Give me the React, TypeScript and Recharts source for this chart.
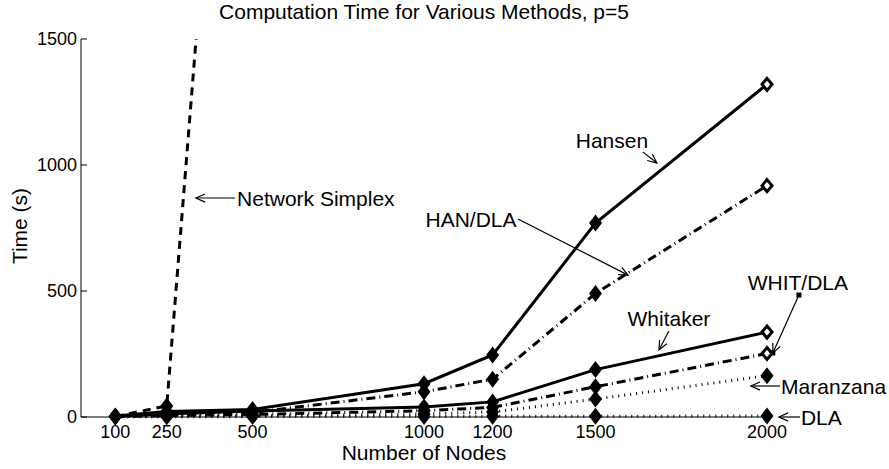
import { LineChart, Line, XAxis, YAxis, ReferenceLine, ReferenceDot, Label } from "recharts";

const NODES = [100, 250, 500, 1000, 1200, 1500, 2000];
const HANSEN = [4, 22, 30, 132, 246, 770, 1320];
const HAN_DLA = [2, 14, 18, 100, 150, 490, 918];
const WHITAKER = [3, 12, 24, 40, 60, 188, 337];
const WHIT_DLA = [1, 6, 10, 25, 38, 120, 252];
const MARANZANA = [1, 3, 5, 12, 20, 71, 164];
const DLA = [0.5, 1, 1.5, 2, 2.5, 3, 4];
const NETWORK_SIMPLEX = [2, 44, 4300];
const Y_TICKS = [0, 500, 1000, 1500];

const rows = NODES.map((n, i) => ({
  n,
  hansen: HANSEN[i],
  hanDla: HAN_DLA[i],
  whitaker: WHITAKER[i],
  whitDla: WHIT_DLA[i],
  maranzana: MARANZANA[i],
  dla: DLA[i],
  ns: NETWORK_SIMPLEX[i],
}));

// text position + arrow (tail -> head), all in data units
const NOTES = [
  { text: "Network Simplex", at: [455, 869], anchor: "start", from: [449, 869], to: [335, 869] },
  { text: "Hansen", at: [1548, 1099], anchor: "middle", from: [1638, 1052], to: [1679, 1008] },
  { text: "HAN/DLA", at: [1137, 782], anchor: "middle", from: [1274, 786], to: [1595, 563] },
  { text: "Whitaker", at: [1714, 389], anchor: "middle", from: [1714, 341], to: [1685, 266] },
  { text: "WHIT/DLA", at: [2090, 532], anchor: "middle", from: [2093, 484], to: [2017, 254], boxes: true },
  { text: "Maranzana", at: [2041, 123], anchor: "start", from: [2038, 123], to: [1953, 123] },
  { text: "DLA", at: [2099, 0], anchor: "start", from: [2096, 0], to: [2035, 0] },
];

const FONT = "'Liberation Sans', Arial, Helvetica, sans-serif";

const diamond = (hollowLast: boolean) => (p: any) => {
  const { cx, cy, index } = p;
  if (cx == null || cy == null || isNaN(cy)) return <g key={`d-${index}`} />;
  if (hollowLast && index === NODES.length - 1) {
    return (
      <polygon
        key={`d-${index}`}
        points={`${cx},${cy - 6} ${cx + 5},${cy} ${cx},${cy + 6} ${cx - 5},${cy}`}
        fill="#fff"
        stroke="#000"
        strokeWidth={3}
      />
    );
  }
  return (
    <polygon
      key={`d-${index}`}
      points={`${cx},${cy - 8.5} ${cx + 6.5},${cy} ${cx},${cy + 8.5} ${cx - 6.5},${cy}`}
      fill="#000"
    />
  );
};

const arrow = (boxes?: boolean) => (p: any) => {
  const { x1, y1, x2, y2 } = p;
  const ang = Math.atan2(y2 - y1, x2 - x1);
  const len = 10;
  const spread = 0.42;
  const ax = x2 - len * Math.cos(ang - spread);
  const ay = y2 - len * Math.sin(ang - spread);
  const bx = x2 - len * Math.cos(ang + spread);
  const by = y2 - len * Math.sin(ang + spread);
  return (
    <g>
      <line x1={x1} y1={y1} x2={x2} y2={y2} stroke="#000" strokeWidth={1.2} />
      <polyline points={`${ax},${ay} ${x2},${y2} ${bx},${by}`} fill="none" stroke="#000" strokeWidth={1.2} />
      {boxes && <rect x={x1 - 2.5} y={y1 - 2.5} width={5} height={5} fill="#000" />}
      {boxes && <rect x={x2 - 2.5} y={y2 - 2.5} width={5} height={5} fill="#000" />}
    </g>
  );
};

const noteText = (text: string, anchor: string) => (p: any) => (
  <text
    x={p.cx}
    y={p.cy}
    textAnchor={anchor}
    dominantBaseline="central"
    fontSize={21}
    fontFamily={FONT}
    fill="#000"
  >
    {text}
  </text>
);

const XTick = (p: any) => (
  <text x={p.x} y={p.y} dy="0.71em" textAnchor="middle" fontSize={18} fontFamily={FONT} fill="#000">
    {p.payload.value}
  </text>
);

const YTick = (p: any) => (
  <g>
    <text x={p.x} y={p.y} dy="0.355em" textAnchor="end" fontSize={18} fontFamily={FONT} fill="#000">
      {p.payload.value}
    </text>
    <line x1={p.x + 4} y1={p.y} x2={p.x + 10} y2={p.y} stroke="#000" strokeWidth={1} />
  </g>
);

export default function App() {
  return (
    <div style={{ position: "absolute", left: 0, top: 0, width: 889, height: 469, background: "#fff" }}>
      <div
        style={{
          position: "absolute",
          left: 0,
          top: 0,
          width: 848,
          textAlign: "center",
          fontFamily: FONT,
          fontSize: 21,
          lineHeight: "24px",
          color: "#000",
        }}
      >
        Computation Time for Various Methods, p=5
      </div>
      <LineChart width={889} height={469} data={rows} margin={{ top: 39, right: 122, bottom: 0, left: 0 }}>
        <XAxis
          dataKey="n"
          type="number"
          domain={[0, 2000]}
          ticks={NODES}
          interval={0}
          height={52}
          tickLine={false}
          tickSize={0}
          tickMargin={8}
          axisLine={{ stroke: "#000", strokeWidth: 1 }}
          tick={<XTick />}
        >
          <Label
            content={() => (
              <text
                x={424}
                y={452}
                textAnchor="middle"
                dominantBaseline="central"
                fontSize={21}
                fontFamily={FONT}
                fill="#000"
              >
                Number of Nodes
              </text>
            )}
          />
        </XAxis>
        <YAxis
          domain={[0, 1500]}
          ticks={Y_TICKS}
          width={81}
          tickLine={false}
          tickSize={0}
          tickMargin={4}
          axisLine={{ stroke: "#000", strokeWidth: 1 }}
          tick={<YTick />}
        >
          <Label
            content={() => (
              <text
                x={19}
                y={226}
                transform="rotate(-90 19 226)"
                textAnchor="middle"
                dominantBaseline="central"
                fontSize={21}
                fontFamily={FONT}
                fill="#000"
              >
                Time (s)
              </text>
            )}
          />
        </YAxis>
        <YAxis yAxisId="ns" hide domain={[0, 1500]} allowDataOverflow />

        <Line dataKey="dla" stroke="#000" strokeWidth={3} strokeDasharray="1 5" dot={diamond(false)} isAnimationActive={false} />
        <Line dataKey="maranzana" stroke="#000" strokeWidth={3} strokeDasharray="1 5" dot={diamond(false)} isAnimationActive={false} />
        <Line dataKey="whitDla" stroke="#000" strokeWidth={3} strokeDasharray="9 4 1 4" dot={diamond(true)} isAnimationActive={false} />
        <Line dataKey="whitaker" stroke="#000" strokeWidth={3} dot={diamond(true)} isAnimationActive={false} />
        <Line dataKey="hanDla" stroke="#000" strokeWidth={3} strokeDasharray="9 4 1 4" dot={diamond(true)} isAnimationActive={false} />
        <Line dataKey="hansen" stroke="#000" strokeWidth={3} dot={diamond(true)} isAnimationActive={false} />
        <Line yAxisId="ns" dataKey="ns" stroke="#000" strokeWidth={3} strokeDasharray="8 6" dot={diamond(false)} isAnimationActive={false} />

        {NOTES.map((a) => (
          <ReferenceLine
            key={`arrow-${a.text}`}
            segment={[
              { x: a.from[0], y: a.from[1] },
              { x: a.to[0], y: a.to[1] },
            ]}
            ifOverflow="visible"
            shape={arrow(a.boxes)}
          />
        ))}
        {NOTES.map((a) => (
          <ReferenceDot
            key={`note-${a.text}`}
            x={a.at[0]}
            y={a.at[1]}
            r={0}
            ifOverflow="visible"
            shape={noteText(a.text, a.anchor)}
          />
        ))}
      </LineChart>
    </div>
  );
}
